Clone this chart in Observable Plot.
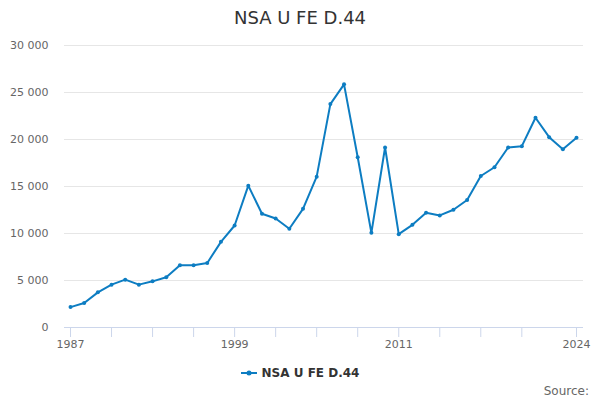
<!DOCTYPE html>
<html>
<head>
<meta charset="utf-8">
<script src="https://cdn.jsdelivr.net/npm/d3@7"></script>
<script src="https://cdn.jsdelivr.net/npm/@observablehq/plot@0.6"></script>
<style>
  body { margin: 0; background: #fff; font-family: "DejaVu Sans", sans-serif; }
  #wrap { position: relative; width: 600px; height: 400px; overflow: hidden; }
  #title { position: absolute; left: 0; top: 6px; width: 600px; text-align: center; font-size: 18px; color: #333; line-height: 24px; }
  #chart { position: absolute; left: 0; top: 36px; }
  #legend { position: absolute; left: 0; top: 364px; width: 600px; text-align: center; font-size: 12px; font-weight: bold; color: #333; line-height: 18px; }
  #legend svg { vertical-align: middle; margin-right: 5px; position: relative; top: -1px; }
  #source { position: absolute; right: 11px; top: 382px; font-size: 12px; color: #666; line-height: 18px; }
</style>
</head>
<body>
<div id="wrap">
  <div id="title">NSA U FE D.44</div>
  <div id="chart"></div>
  <div id="legend"><svg width="16" height="10"><line x1="0" y1="5" x2="16" y2="5" stroke="#0d7dc2" stroke-width="2"/><circle cx="8" cy="5" r="2.5" fill="#0d7dc2"/></svg>NSA U FE D.44</div>
  <div id="source">Source:</div>
</div>
<script>
const years = d3.range(1987, 2025);
const values = [
  2170, 2600, 3740, 4560, 5090, 4560, 4910, 5340, 6620, 6630,
  6870, 9110, 10850, 15090, 12100, 11600, 10500, 12620, 16050, 23770,
  25870, 18110, 10070, 19150, 9930, 10925, 12200, 11920, 12530, 13560,
  16120, 17050, 19150, 19290, 22310, 20250, 18970, 20180
];
const xTicks = [1987, 1990, 1993, 1996, 1999, 2002, 2005, 2008, 2011, 2014, 2017, 2020, 2024];
const xLabels = [1987, 1999, 2011, 2024];
const yTicks = [0, 5000, 10000, 15000, 20000, 25000, 30000];

const data = years.map((y, i) => ({year: y, value: values[i]}));
const color = "#0d7dc2";
const fmt = d => d3.format(",")(d).replace(/,/g, " ");

const chart = Plot.plot({
  width: 600,
  height: 320,
  marginLeft: 64,
  marginRight: 17,
  marginTop: 9,
  marginBottom: 29,
  style: {fontFamily: "DejaVu Sans, sans-serif", fontSize: "11px", color: "#666", background: "#fff"},
  x: {domain: [1986.56, 2024.51], label: null},
  y: {domain: [0, 30000], label: null},
  marks: [
    Plot.ruleY(yTicks.filter(d => d > 0), {stroke: "#e6e6e6", strokeWidth: 1}),
    Plot.axisY({ticks: yTicks, tickSize: 0, tickPadding: 16, tickFormat: fmt, fill: "#666", fontSize: 11}),
    Plot.ruleY([0], {stroke: "#ccd6eb", strokeWidth: 1}),
    Plot.axisX({ticks: xTicks, tickSize: 10, tickPadding: 3, stroke: "#ccd6eb", fill: "#666", fontSize: 11,
      tickFormat: d => xLabels.includes(d) ? String(d) : ""}),
    Plot.line(data, {x: "year", y: "value", stroke: color, strokeWidth: 2}),
    Plot.dot(data, {x: "year", y: "value", fill: color, r: 2})
  ]
});
document.getElementById("chart").appendChild(chart);
</script>
</body>
</html>
